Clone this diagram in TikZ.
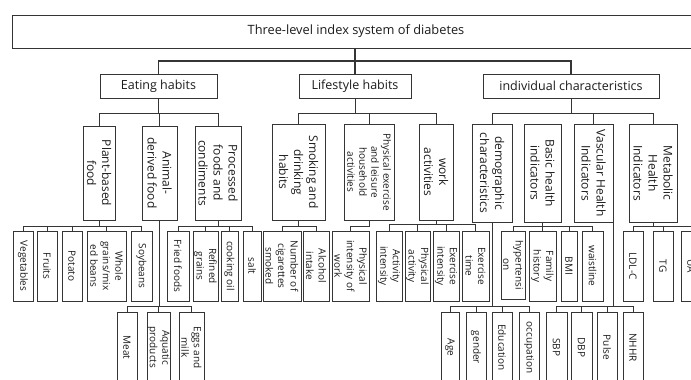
\documentclass[tikz,border=0pt]{standalone}
\usepackage{fontspec}
\setmainfont{Open Sans}
\definecolor{ln}{HTML}{353535}
\definecolor{tx}{HTML}{1C1C1C}
\tikzset{
  box/.style={draw=ln, line width=0.8pt, inner sep=0pt, outer sep=0pt, text=tx},
  vtext/.style={rotate=-90, align=center, inner sep=0pt, text=tx},
  conn/.style={draw=ln, line width=0.8pt},
  thickconn/.style={draw=ln, line width=1.7pt},
  ftitle/.style={font=\fontsize{12.8}{15}\selectfont},
  ftop/.style={font=\fontsize{12.5}{15}\selectfont},
  fthree/.style={font=\fontsize{12}{15}\selectfont},
  fsmall/.style={font=\fontsize{10}{12}\selectfont},
  ffour/.style={font=\fontsize{10}{12.5}\selectfont},
}
\newcommand{\VB}[7][ffour]{%
  \pgfmathsetmacro{\bxA}{(#3+#5)/2}%
  \pgfmathsetmacro{\bxB}{-(#4+#6)/2}%
  \pgfmathsetmacro{\bxW}{#5-#3}%
  \pgfmathsetmacro{\bxH}{#6-#4}%
  \node[box,minimum width=\bxW pt,minimum height=\bxH pt] (#2) at (\bxA pt,\bxB pt) {};
  \node[vtext,#1] (#2t) at (#2.center) {#7};}
\begin{document}
\begin{tikzpicture}
\path[use as bounding box, fill=white] (0pt,0pt) rectangle (691pt,-380pt);
\clip (0pt,0pt) rectangle (691pt,-380pt);
% level 1
\node[box,ftitle,minimum width=688pt,minimum height=33pt] (root) at (356pt,-31.5pt) {Three-level index system of diabetes};
% level 2
\node[box,ftop,minimum width=117pt,minimum height=24pt] (eat) at (158.5pt,-86pt) {Eating habits};
\node[box,ftop,minimum width=112pt,minimum height=24pt] (life) at (355pt,-86pt) {Lifestyle habits};
\node[box,ftop,minimum width=176pt,minimum height=24pt] (indiv) at (571pt,-86pt) {individual characteristics};
% level 3
\VB[fthree]{plant}{83}{126}{115}{220}{Plant-based\\food}
\VB[fthree]{animal}{142}{126}{177}{220}{Animal-\\derived food}
\VB[fthree]{proc}{195}{126}{241}{220}{Processed\\foods and\\condiments}
\VB[fthree]{smoke}{272}{124}{325}{220}{Smoking and\\drinking\\habits}
\VB[fsmall]{physex}{344}{124}{394}{220}{Physical exercise\\and leisure\\household\\activities}
\VB[fthree]{work}{419}{124}{453}{220}{work\\activities}
\VB[fthree]{demo}{472}{124}{512}{222}{demographic\\characteristics}
\VB[fthree]{basic}{524}{124}{561}{222}{Basic health\\indicators}
\VB[fthree]{vasc}{574}{124}{613}{222}{Vascular Health\\Indicators}
\VB[fthree]{metab}{629}{124}{677}{222}{Metabolic\\Health\\Indicators}
% level 4
\VB{veg}{13}{231}{33}{301}{Vegetables}
\VB{fruits}{37}{231}{57}{301}{Fruits}
\VB{potato}{62}{231}{82}{301}{Potato}
\VB{whole}{87}{231}{126}{301}{Whole\\grains/mix\\ed beans}
\VB{soy}{131}{231}{152}{301}{Soybeans}
\VB{fried}{167}{231}{189}{301}{Fried foods}
\VB{refined}{193}{231}{218}{301}{Refined\\grains}
\VB{oil}{221}{231}{238}{301}{cooking oil}
\VB{salt}{243}{231}{261}{301}{salt}
\VB{cig}{263}{231}{301}{301}{Number of\\cigarettes\\smoked}
\VB{alcohol}{303}{231}{329}{301}{Alcohol\\intake}
\VB{piw}{332}{231}{369}{301}{Physical\\intensity of\\work}
\VB{actint}{376}{231}{402}{301}{Activity\\intensity}
\VB{physact}{405}{231}{430}{301}{Physical\\activity}
\VB{exint}{433}{231}{459}{301}{Exercise\\intensity}
\VB{extime}{462}{231}{489}{301}{Exercise\\time}
\VB{hyper}{501}{231}{525}{299}{hypertensi\\on}
\VB{family}{529}{231}{556}{301}{Family\\history}
\VB{bmi}{561}{231}{577}{301}{BMI}
\VB{waist}{582}{231}{603}{301}{waistline}
\VB{ldl}{623}{231}{643}{301}{LDL-C}
\VB{tg}{653}{231}{673}{301}{TG}
\VB{ua}{681}{231}{701}{301}{UA}
% level 5
\VB{meat}{117}{312}{137}{383}{Meat}
\VB{aquatic}{147}{312}{170}{383}{Aquatic\\products}
\VB{eggs}{179}{312}{204}{383}{Eggs and\\milk}
\VB{age}{441}{312}{459}{383}{Age}
\VB{gender}{466}{312}{486}{383}{gender}
\VB{educ}{492}{312}{512}{383}{Education}
\VB{occ}{519}{312}{539}{383}{occupation}
\VB{sbp}{546}{312}{567}{383}{SBP}
\VB{dbp}{571}{312}{592}{383}{DBP}
\VB{pulse}{597}{312}{617}{383}{Pulse}
\VB{nhhr}{623}{312}{643}{383}{NHHR}
% bar levels
\coordinate (b1) at (0pt,-61pt);
\coordinate (b2) at (0pt,-113pt);
\coordinate (b3) at (0pt,-226pt);
\coordinate (b3w) at (0pt,-224pt);
\coordinate (b4) at (0pt,-306pt);
\coordinate (vascout) at (613pt,-222pt);
% level 1 -> 2
\draw[thickconn] (root.south -| life.north) -- (life.north);
\draw[thickconn] (eat.north) -- (eat.north |- b1) -- (indiv.north |- b1) -- (indiv.north);
% level 2 -> 3
\draw[conn] (eat.south) -- (eat.south |- b2);
\draw[conn] (plant.north) -- (plant.north |- b2) -- (proc.north |- b2) -- (proc.north);
\draw[conn] (animal.north) -- (animal.north |- b2);
\draw[conn] (life.south) -- (life.south |- b2);
\draw[conn] (smoke.north) -- (smoke.north |- b2) -- (work.north |- b2) -- (work.north);
\draw[conn] (physex.north) -- (physex.north |- b2);
\draw[conn] (indiv.south) -- (indiv.south |- b2);
\draw[conn] (demo.north) -- (demo.north |- b2) -- (metab.north |- b2) -- (metab.north);
\draw[conn] (vasc.north) -- (vasc.north |- b2);
% level 3 -> 4
\draw[conn] (plant.south) -- (plant.south |- b3);
\draw[conn] (veg.north |- b3) -- (soy.north |- b3);
\foreach \c in {veg,fruits,potato,whole,soy} \draw[conn] (\c.north) -- (\c.north |- b3);
\draw[conn] (proc.south) -- (proc.south |- b3);
\draw[conn] (fried.north |- b3) -- (salt.north |- b3);
\foreach \c in {fried,refined,oil,salt} \draw[conn] (\c.north) -- (\c.north |- b3);
\draw[conn] (smoke.south) -- (smoke.south |- b3);
\draw[conn] (cig.north) -- (cig.north |- b3) -- (alcohol.north |- b3) -- (alcohol.north);
\draw[conn] (physex.south) -- (physex.south |- b3) -- (piw.north |- b3) -- (piw.north);
\draw[conn] (work.south) -- (work.south |- b3w);
\draw[conn] (actint.north |- b3w) -- (extime.north |- b3w);
\foreach \c in {actint,physact,exint,extime} \draw[conn] (\c.north) -- (\c.north |- b3w);
\draw[conn] (basic.south) -- (basic.south |- b3);
\draw[conn] (hyper.north |- b3) -- (waist.north |- b3);
\foreach \c in {hyper,family,bmi,waist} \draw[conn] (\c.north) -- (\c.north |- b3);
\draw[conn] (metab.south) -- (metab.south |- b3);
\draw[conn] (ldl.north |- b3) -- (ua.north |- b3);
\foreach \c in {ldl,tg,ua} \draw[conn] (\c.north) -- (\c.north |- b3);
% level 3 -> 5
\draw[conn] (animal.south) -- (animal.south |- b4);
\draw[conn] (meat.north |- b4) -- (eggs.north |- b4);
\foreach \c in {meat,aquatic,eggs} \draw[conn] (\c.north) -- (\c.north |- b4);
\draw[conn] (demo.south) -- (demo.south |- b4);
\draw[conn] (age.north |- b4) -- (occ.north |- b4);
\foreach \c in {age,gender,educ,occ} \draw[conn] (\c.north) -- (\c.north |- b4);
\draw[conn] (vascout) -- (vascout |- b4);
\draw[conn] (sbp.north |- b4) -- (nhhr.north |- b4);
\foreach \c in {sbp,dbp,pulse,nhhr} \draw[conn] (\c.north) -- (\c.north |- b4);
\end{tikzpicture}
\end{document}
